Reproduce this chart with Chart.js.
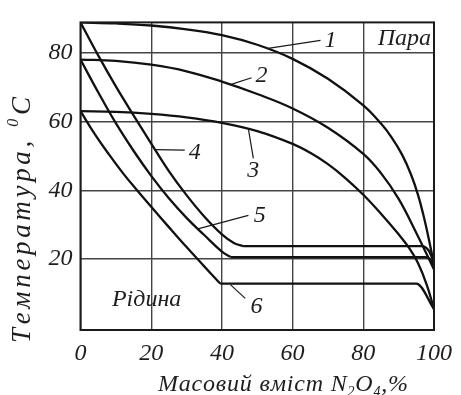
<!DOCTYPE html>
<html>
<head>
<meta charset="utf-8">
<script src="https://cdn.jsdelivr.net/npm/chart.js@4"></script>
<style>
  html, body { margin: 0; padding: 0; background: #fff; }
</style>
</head>
<body>
<canvas id="diagram" width="461" height="395"></canvas>
<script>
// осі
const massTicks = [0, 20, 40, 60, 80, 100];
const tempTicks = [20, 40, 60, 80];

// криві 1-3 (пара)
const mass1 = [0, 10, 20, 30, 40, 50, 60, 70, 80, 85, 88, 91, 93.5, 95.5, 97, 98.5, 100];
const temp1 = [88.8, 88.5, 87.9, 86.8, 85.1, 82.3, 78.2, 72.4, 64.7, 59.4, 55.4, 50.3, 44.6, 38.6, 32.8, 26, 18.5];

const mass2 = [0, 10, 20, 30, 40, 50, 60, 70, 80, 85, 90, 95, 100];
const temp2 = [78, 77.6, 76.5, 74.6, 71.6, 68, 63.8, 58.2, 50.6, 45, 37.5, 27.6, 17];

const mass3 = [0, 10, 20, 30, 40, 50, 60, 65, 70, 75, 80, 85, 90, 93, 95.5, 98, 100];
const temp3 = [63, 62.8, 62.2, 61.2, 59.6, 57.2, 53.5, 50.9, 47.6, 43.5, 38.7, 33.2, 27.2, 23.2, 18.8, 12.4, 5.5];

// криві 4-6 (рідина): спадна гілка та горизонтальна ділянка
const mass4 = [0, 5, 10, 15, 20, 25, 30, 35, 40, 43.5, 46];
const temp4 = [88.8, 79.2, 70.2, 61.8, 53.6, 45.6, 38.6, 32.4, 27.2, 24.6, 23.8];
const mass4h = [46, 70, 96.5, 98.5, 100];
const temp4h = [23.8, 23.8, 23.8, 22.5, 19];

const mass5 = [0, 5, 10, 15, 20, 25, 30, 35, 40, 42.5];
const temp5 = [78, 68.5, 59.5, 51.5, 44.2, 37.7, 32, 27, 22.2, 20.6];
const mass5h = [42.5, 70, 97.5, 99, 100];
const temp5h = [20.6, 20.6, 20.6, 19.8, 17.5];

const mass6 = [0, 4, 8, 12, 16, 20, 25, 30, 35, 39.5];
const temp6 = [63, 56.4, 50.5, 45, 40, 35.2, 29.3, 23.5, 17.9, 12.9];
const mass6h = [39.5, 70, 95, 100];
const temp6h = [12.9, 12.9, 12.9, 5.5];

const curveNames = ['1', '2', '3', '4', '5', '6'];

// виноски до кривих (у координатах осей)
const leaders = [
  { from: [52.6, 81.2], to: [67.9, 83.6], text: [70.7, 83.4] },
  { from: [42.4, 70.7], to: [48.4, 72.7], text: [51.2, 73.2] },
  { from: [47.5, 57.8], to: [48.9, 49.3], text: [48.9, 45.6] },
  { from: [21.2, 51.8], to: [29.5, 51.7], text: [32.3, 50.9] },
  { from: [33.2, 28.8], to: [47.5, 32.7], text: [50.7, 32.6] },
  { from: [42.4, 12.6], to: [46.6, 8.6], text: [49.8, 6.3] }
];

const family = '"Liberation Serif", "Times New Roman", Times, serif';
const serif = size => 'italic ' + size + 'px ' + family;
const ink = '#1e1e1e';

function toPoints(xs, ys) {
  return xs.map((v, i) => ({ x: v, y: ys[i] }));
}

// текст з рівномірно розставленими літерами
function spacedText(ctx, parts, cx, base, width) {
  const chars = [];
  parts.forEach(([str, size, dy]) => {
    for (const ch of str) chars.push({ ch: ch, size: size, dy: dy });
  });
  let natural = 0;
  chars.forEach(c => {
    ctx.font = serif(c.size);
    c.w = ctx.measureText(c.ch).width;
    natural += c.w;
  });
  const gap = (width - natural) / (chars.length - 1);
  let x = cx - width / 2;
  ctx.textAlign = 'left';
  ctx.textBaseline = 'alphabetic';
  chars.forEach(c => {
    ctx.font = serif(c.size);
    ctx.fillText(c.ch, x, base + c.dy);
    x += c.w + gap;
  });
}

const textLayer = {
  id: 'textLayer',
  afterDraw(chart) {
    const { ctx, chartArea: area } = chart;
    const sx = chart.scales.x;
    const sy = chart.scales.y;
    ctx.save();

    ctx.strokeStyle = '#1a1a1a';
    ctx.lineWidth = 2;
    ctx.strokeRect(area.left, area.top, area.right - area.left, area.bottom - area.top);

    // номери кривих
    ctx.lineWidth = 1.2;
    ctx.fillStyle = ink;
    ctx.textAlign = 'center';
    ctx.textBaseline = 'middle';
    ctx.font = serif(24);
    curveNames.forEach((name, i) => {
      const p = leaders[i];
      ctx.beginPath();
      ctx.moveTo(sx.getPixelForValue(p.from[0]), sy.getPixelForValue(p.from[1]));
      ctx.lineTo(sx.getPixelForValue(p.to[0]), sy.getPixelForValue(p.to[1]));
      ctx.stroke();
      ctx.fillText(name, sx.getPixelForValue(p.text[0]), sy.getPixelForValue(p.text[1]));
    });

    ctx.fillText('Пара', sx.getPixelForValue(91.6), sy.getPixelForValue(84));
    ctx.fillText('Рідина', sx.getPixelForValue(18.7), sy.getPixelForValue(8.3));

    // підписи осей
    spacedText(ctx, [['Масовий вміст N', 24, 0], ['2', 14, 5], ['O', 24, 0], ['4', 14, 5], [',%', 24, 0]], 283, 391, 250);

    ctx.translate(30, 220);
    ctx.rotate(-Math.PI / 2);
    spacedText(ctx, [['Температура, ', 27, 0], ['0', 16, -12], ['C', 27, 0]], 0, 0, 246);

    ctx.restore();
  }
};

// гладка крива
const curve = (xs, ys) => ({
  data: toPoints(xs, ys),
  borderColor: '#111',
  borderWidth: 2.3,
  pointRadius: 0,
  fill: false,
  tension: 0.4
});

// горизонтальна ділянка зі спадом біля 100 %
const plateau = (xs, ys) => ({
  data: toPoints(xs, ys),
  borderColor: '#111',
  borderWidth: 2.3,
  pointRadius: 0,
  fill: false,
  cubicInterpolationMode: 'monotone'
});

function draw() {
  const ctx = document.getElementById('diagram').getContext('2d');
  new Chart(ctx, {
    type: 'line',
    data: {
      datasets: [
        curve(mass1, temp1),
        curve(mass2, temp2),
        curve(mass3, temp3),
        curve(mass4, temp4),
        plateau(mass4h, temp4h),
        curve(mass5, temp5),
        plateau(mass5h, temp5h),
        curve(mass6, temp6),
        plateau(mass6h, temp6h)
      ]
    },
    options: {
      responsive: false,
      animation: false,
      layout: { padding: { top: 11, right: 20.3, left: 0, bottom: 0 } },
      plugins: {
        legend: { display: false },
        tooltip: { enabled: false }
      },
      scales: {
        x: {
          type: 'linear',
          min: 0,
          max: 100,
          afterBuildTicks: s => { s.ticks = massTicks.map(v => ({ value: v })); },
          afterFit: s => { s.height = 65; },
          border: { display: false },
          grid: { color: '#444', lineWidth: 1.4, drawTicks: false },
          ticks: {
            padding: 9,
            color: ink,
            autoSkip: false,
            maxRotation: 0,
            font: { family: family, style: 'italic', size: 24 }
          }
        },
        y: {
          type: 'linear',
          min: -0.6,
          max: 88.8,
          afterBuildTicks: s => { s.ticks = tempTicks.map(v => ({ value: v })); },
          afterFit: s => { s.width = 80.5; },
          border: { display: false },
          grid: { color: '#444', lineWidth: 1.4, drawTicks: false },
          ticks: {
            padding: 8,
            color: ink,
            font: { family: family, style: 'italic', size: 24 }
          }
        }
      }
    },
    plugins: [textLayer]
  });
}

Promise.all([
  document.fonts.load(serif(24), 'Температура 0123'),
  document.fonts.load(serif(14), '24')
]).then(draw, draw);
</script>
</body>
</html>
